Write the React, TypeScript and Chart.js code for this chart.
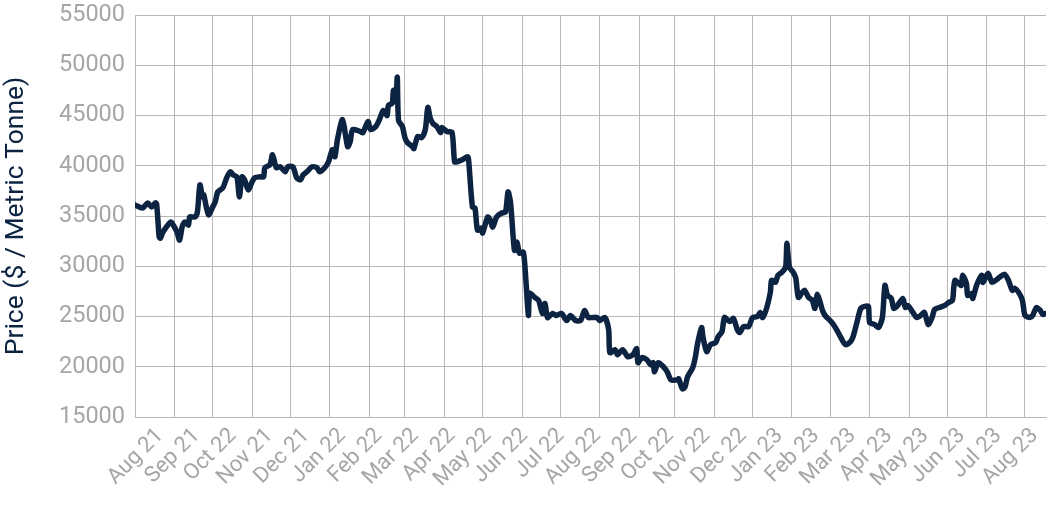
import React, { useEffect, useRef } from "react";
import { Chart, registerables } from "chart.js";

Chart.register(...registerables);

// Days since 1 Aug 2021
const days = [
  0, 6, 10, 13, 16, 17, 19, 20, 22, 28, 30, 33, 35, 37, 39, 42, 43, 47, 49, 51,
  53, 54, 56, 58, 61, 63, 65, 69, 72, 75, 77, 80, 82, 84, 86, 89, 92, 94, 98, 101,
  102, 106, 108, 111, 114, 118, 120, 124, 127, 130, 132, 135, 139, 143, 145, 149, 152, 155, 157, 159,
  163, 167, 169, 171, 177, 179, 183, 185, 189, 192, 195, 198, 199, 202, 203, 205, 206, 207, 210, 212,
  214, 218, 219, 222, 225, 228, 230, 232, 234, 237, 240, 241, 245, 249, 251, 253, 257, 261, 262, 265,
  267, 269, 272, 273, 277, 279, 281, 284, 288, 291, 293, 295, 298, 300, 302, 305, 307, 309, 310, 314,
  317, 320, 322, 324, 328, 331, 335, 339, 342, 346, 350, 353, 356, 359, 363, 365, 369, 372, 373, 377,
  379, 383, 387, 391, 394, 395, 398, 402, 405, 407, 408, 411, 415, 418, 421, 426, 427, 430, 432, 434,
  438, 440, 442, 445, 446, 449, 452, 456, 458, 461, 463, 467, 470, 473, 475, 478, 482, 485, 489, 491,
  493, 496, 499, 500, 503, 505, 508, 511, 512, 514, 517, 519, 521, 524, 526, 529, 532, 534, 536, 540,
  542, 546, 548, 551, 554, 558, 562, 564, 567, 570, 573, 576, 577, 581, 584, 587, 589, 591, 594, 596,
  599, 603, 605, 607, 611, 614, 617, 620, 623, 626, 628, 632, 636, 639, 642, 643, 644, 646, 649, 650,
  653, 654, 657, 658, 661, 665, 666, 670, 673, 676, 679, 683, 686, 689, 691, 694, 697, 699, 703, 705,
  708, 711, 713, 715,
];

// Price ($ / metric tonne)
const prices = [
  36100, 35800, 36300, 35900, 36300, 36200, 32900, 32800, 33400, 34400, 34100, 33400, 32600, 33900, 34400, 34100, 34900, 34900, 35400, 38100,
  36900, 37100, 35900, 35100, 35900, 36400, 37400, 37800, 38800, 39400, 39100, 38900, 36900, 38900, 38600, 37600, 38400, 38800, 38900, 38900,
  39800, 40100, 41100, 39800, 39900, 39400, 39900, 39900, 38800, 38600, 39100, 39400, 39900, 39800, 39400, 39800, 40400, 41600, 40900, 42600,
  44600, 41900, 42400, 43600, 43400, 43300, 44400, 43600, 43900, 44600, 45500, 45000, 46000, 46200, 47500, 47200, 48800, 44500, 43900, 42800,
  42300, 41900, 41700, 42900, 42800, 43600, 45800, 44700, 44200, 43900, 43300, 43800, 43400, 43300, 40400, 40400, 40600, 40900, 40600, 35900,
  35800, 33600, 33800, 33300, 34900, 34600, 33900, 34900, 35300, 35400, 37400, 36300, 31600, 32400, 31300, 31400, 28600, 25100, 27300, 26900,
  26600, 25300, 26300, 24900, 25300, 25100, 25300, 24600, 25100, 24600, 24600, 25600, 24900, 24900, 24900, 24600, 24900, 23700, 21400, 21700,
  21200, 21700, 21000, 21200, 21800, 20400, 20900, 20700, 20200, 20400, 19500, 20400, 20000, 19500, 18700, 18700, 18800, 17800, 18000, 19000,
  19900, 20900, 22400, 23900, 23000, 21500, 22200, 22400, 23000, 23500, 24900, 24500, 24800, 23700, 23400, 24000, 24000, 24900, 25000, 25400,
  24900, 25800, 27400, 28600, 28400, 29100, 29400, 29900, 32300, 29900, 29400, 28800, 26900, 27400, 27600, 26900, 26600, 25800, 27200, 25600,
  25100, 24600, 24300, 23700, 23000, 22200, 22500, 23000, 24400, 25800, 26000, 26000, 24400, 24200, 23900, 24900, 28100, 27100, 26800, 25800,
  26100, 26800, 25900, 26100, 25400, 24900, 25100, 25400, 24200, 24900, 25700, 25900, 26100, 26400, 26600, 27800, 28600, 28400, 28100, 29100,
  28300, 27100, 27300, 26800, 28100, 29100, 28400, 29300, 28400, 28600, 28900, 29200, 28600, 27600, 27800, 27400, 26600, 25100, 24900, 25100,
  25900, 25600, 25200, 25300,
];

// Month starts (days since 1 Aug 2021) used for vertical grid lines
const monthStartDays = [
  0, 31, 61, 92, 122, 153, 184, 212, 243, 273, 304, 334, 365, 396, 424, 455, 485, 516, 546, 577, 608, 638, 669, 699,
];

const monthLabels = [
  "Aug 21", "Sep 21", "Oct 22", "Nov 21", "Dec 21", "Jan 22", "Feb 22", "Mar 22", "Apr 22", "May 22",
  "Jun 22", "Jul 22", "Aug 22", "Sep 22", "Oct 22", "Nov 22", "Dec 22", "Jan 23", "Feb 23", "Mar 23",
  "Apr 23", "May 23", "Jun 23", "Jul 23", "Aug 23",
];

const yTicks = [15000, 20000, 25000, 30000, 35000, 40000, 45000, 50000, 55000];

const X_MAX = 715.5;
const GRID = "#b8b8b8";
const TICK = "#a6a6a6";
const NAVY = "#0c2341";

export default function App() {
  const ref = useRef<HTMLCanvasElement | null>(null);

  useEffect(() => {
    document.body.style.margin = "0";
    const canvas = ref.current;
    if (!canvas) return;
    const labelPositions = monthLabels.map((_, k) => ((k + 0.5) * X_MAX) / monthLabels.length);
    const gridSet = new Set(monthStartDays);
    const labelFor = (v: number) => {
      for (let k = 0; k < labelPositions.length; k++) {
        if (Math.abs(labelPositions[k] - v) < 1e-6) return monthLabels[k];
      }
      return "";
    };

    const chart = new Chart(canvas, {
      type: "line",
      data: {
        datasets: [
          {
            data: days.map((d, i) => ({ x: d, y: prices[i] })),
            borderColor: NAVY,
            borderWidth: 5.5,
            pointRadius: 0,
            tension: 0.25,
            borderJoinStyle: "round",
            borderCapStyle: "round",
            fill: false,
          },
        ],
      },
      options: {
        animation: false,
        responsive: false,
        maintainAspectRatio: false,
        layout: { padding: { left: 0, right: 14, top: 15, bottom: 0 } },
        plugins: { legend: { display: false }, tooltip: { enabled: false } },
        scales: {
          x: {
            type: "linear",
            min: 0,
            max: X_MAX,
            afterBuildTicks: (scale: any) => {
              const vals = [...monthStartDays, ...labelPositions].sort((a, b) => a - b);
              scale.ticks = vals.map((v) => ({ value: v }));
            },
            afterFit: (scale: any) => {
              scale.height = 106;
              scale.paddingLeft = 0;
              scale.paddingRight = 0;
            },
            grid: {
              drawTicks: false,
              color: (ctx: any) =>
                ctx.tick && gridSet.has(ctx.tick.value) ? GRID : "rgba(0,0,0,0)",
              lineWidth: 1,
            },
            border: { color: GRID, width: 1 },
            ticks: {
              autoSkip: false,
              maxRotation: 45,
              minRotation: 45,
              padding: 6,
              labelOffset: 7,
              color: TICK,
              font: { family: "Roboto", size: 22 },
              callback: (v: any) => labelFor(Number(v)),
            },
          },
          y: {
            min: 15000,
            max: 55000,
            afterBuildTicks: (scale: any) => {
              scale.ticks = yTicks.map((v) => ({ value: v }));
            },
            afterFit: (scale: any) => {
              scale.width = 135;
              scale.paddingTop = 0;
              scale.paddingBottom = 0;
            },
            grid: { color: GRID, lineWidth: 1, drawTicks: false },
            border: { color: GRID, width: 1 },
            ticks: {
              padding: 10,
              color: TICK,
              font: { family: "Roboto", size: 23.5 },
              callback: (v: any) => String(v),
            },
            title: {
              display: true,
              text: "Price ($ / Metric Tonne)",
              color: NAVY,
              font: { family: "Roboto", size: 26.5 },
              padding: { top: 0, bottom: 0 },
            },
          },
        },
      },
    });
    return () => chart.destroy();
  }, []);

  return (
    <div style={{ width: 1060, height: 523 }}>
      <canvas ref={ref} width={1060} height={523} style={{ display: "block" }} />
    </div>
  );
}
